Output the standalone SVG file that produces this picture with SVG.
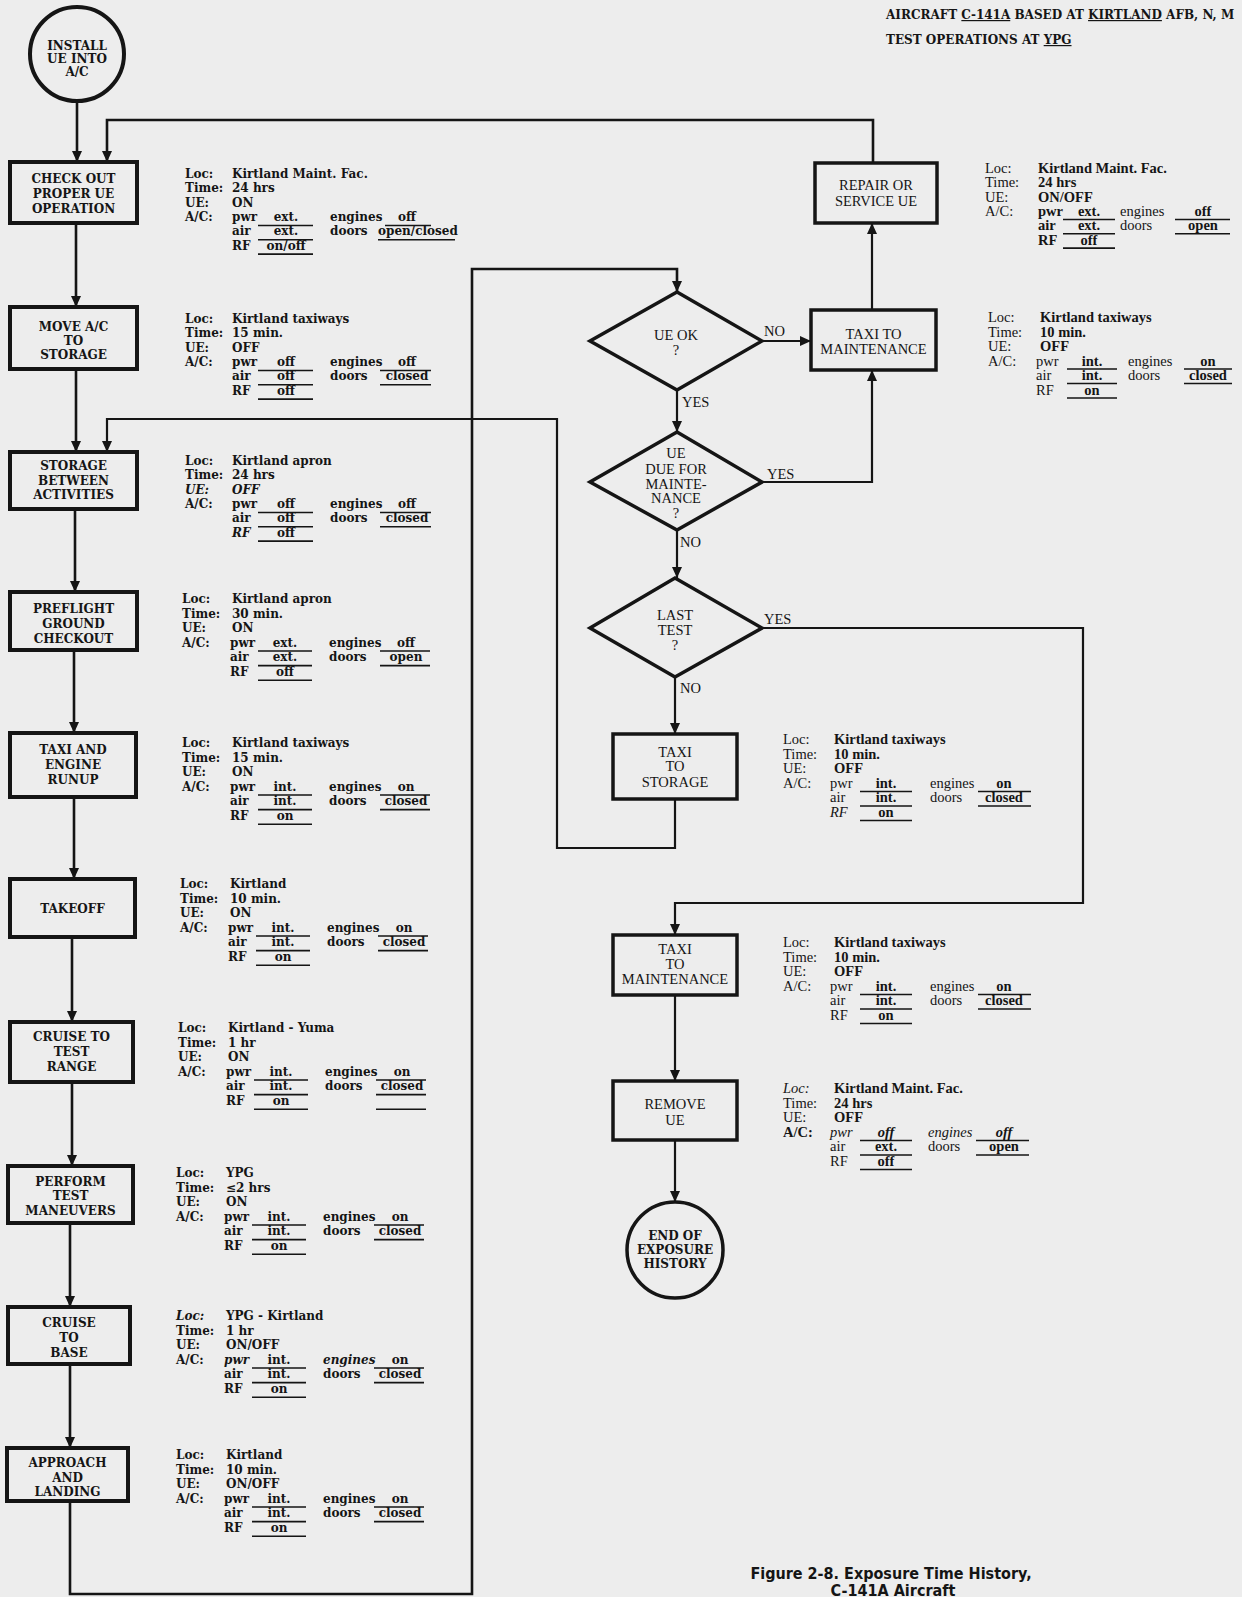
<svg xmlns="http://www.w3.org/2000/svg" width="1242" height="1597" viewBox="0 0 1242 1597">
<defs>
<style>
.bx{fill:none;stroke:#151515;stroke-width:4}
.bx2{fill:none;stroke:#151515;stroke-width:3.5}
.ln{fill:none;stroke:#151515;stroke-width:2.6}
.ln2{fill:none;stroke:#151515;stroke-width:2.2}
.ul{fill:none;stroke:#151515;stroke-width:1.6}
text{fill:#151515}
.tb{font-family:"DejaVu Serif","Liberation Serif",serif;font-weight:bold;font-size:12px;text-anchor:middle}
.tr{font-family:"Liberation Serif","DejaVu Serif",serif;font-size:14.5px;text-anchor:middle}
.il{font-family:"DejaVu Serif","Liberation Serif",serif;font-weight:bold;font-size:12px}
.rl{font-family:"Liberation Serif","DejaVu Serif",serif;font-size:14.5px}
.rv{font-family:"Liberation Serif","DejaVu Serif",serif;font-weight:bold;font-size:14.5px}
.m{text-anchor:middle}
.lab{font-family:"Liberation Serif","DejaVu Serif",serif;font-size:14.5px}
.hd{font-family:"DejaVu Serif","Liberation Serif",serif;font-weight:bold;font-size:12px}
.cap{font-family:"DejaVu Sans Condensed","DejaVu Sans",sans-serif;font-stretch:condensed;font-weight:bold;font-size:16px;text-anchor:middle}
</style>
<marker id="ah" markerUnits="userSpaceOnUse" markerWidth="11" markerHeight="10" refX="11" refY="5" orient="auto">
<path d="M0,0 L11,5 L0,10 z" fill="#151515"/>
</marker>
</defs>
<rect width="1242" height="1597" fill="#ededed"/>

<g id="header">
<text class="hd" x="886" y="19">AIRCRAFT <tspan text-decoration="underline">C-141A</tspan> BASED AT <tspan text-decoration="underline">KIRTLAND</tspan> AFB, N, M</text>
<text class="hd" x="886" y="44">TEST OPERATIONS AT <tspan text-decoration="underline">YPG</tspan></text>
</g>

<g id="connectors">
<path class="ln" d="M77,101 V162" marker-end="url(#ah)"/>
<path class="ln" d="M873,163 V120 H107 V162" marker-end="url(#ah)"/>
<path class="ln" d="M76,223 V307" marker-end="url(#ah)"/>
<path class="ln" d="M76,369 V452" marker-end="url(#ah)"/>
<path class="ln" d="M75,509 V592" marker-end="url(#ah)"/>
<path class="ln" d="M74,650 V733" marker-end="url(#ah)"/>
<path class="ln" d="M74,797 V879" marker-end="url(#ah)"/>
<path class="ln" d="M72,937 V1022" marker-end="url(#ah)"/>
<path class="ln" d="M72,1082 V1166" marker-end="url(#ah)"/>
<path class="ln" d="M70,1223 V1307" marker-end="url(#ah)"/>
<path class="ln" d="M70,1364 V1448" marker-end="url(#ah)"/>
<path class="ln" d="M70,1501 V1594 H472 V269 H677 V292" marker-end="url(#ah)"/>
<path class="ln2" d="M762,341 H811" marker-end="url(#ah)"/>
<path class="ln2" d="M677,390 V432" marker-end="url(#ah)"/>
<path class="ln2" d="M762,482 H872 V370" marker-end="url(#ah)"/>
<path class="ln2" d="M872,310 V223" marker-end="url(#ah)"/>
<path class="ln2" d="M677,530 V578" marker-end="url(#ah)"/>
<path class="ln2" d="M675,677 V734" marker-end="url(#ah)"/>
<path class="ln2" d="M675,799 V848 H557 V419 H107 V452" marker-end="url(#ah)"/>
<path class="ln2" d="M762,628 H1083 V903 H675 V935" marker-end="url(#ah)"/>
<path class="ln2" d="M675,995 V1081" marker-end="url(#ah)"/>
<path class="ln2" d="M675,1140 V1202" marker-end="url(#ah)"/>
<text class="lab" x="764" y="336">NO</text>
<text class="lab" x="682" y="407">YES</text>
<text class="lab" x="767" y="479">YES</text>
<text class="lab" x="680" y="547">NO</text>
<text class="lab" x="764" y="624">YES</text>
<text class="lab" x="680" y="693">NO</text>
</g>

<g id="install">
<circle class="bx" cx="77" cy="54" r="47"/>
<text class="tb" x="77" y="49.5" font-size="12.5">INSTALL</text>
<text class="tb" x="77" y="62.5" font-size="12.5">UE INTO</text>
<text class="tb" x="77" y="75.5" font-size="12.5">A/C</text>
</g>

<g id="checkout">
<rect class="bx" x="10" y="162" width="127" height="61"/>
<text class="tb" x="73.5" y="182.5">CHECK OUT</text>
<text class="tb" x="73.5" y="197.5">PROPER UE</text>
<text class="tb" x="73.5" y="212.5">OPERATION</text>
<g class="il" transform="translate(185,178)">
<text x="0" y="0">Loc:</text><text x="47" y="0">Kirtland Maint. Fac.</text>
<text x="0" y="14.3">Time:</text><text x="47" y="14.3">24 hrs</text>
<text x="0" y="28.6">UE:</text><text x="47" y="28.6">ON</text>
<text x="0" y="42.9">A/C:</text><text x="47" y="42.9">pwr</text><text class="m" x="101" y="42.9">ext.</text><text x="145" y="42.9">engines</text><text class="m" x="222" y="42.9">off</text>
<text x="47" y="57.2">air</text><text class="m" x="101" y="57.2">ext.</text><text x="145" y="57.2">doors</text><text x="193" y="57.2">open/closed</text>
<text x="47" y="71.5">RF</text><text class="m" x="101" y="71.5">on/off</text>
<path class="ul" d="M73,47.5H128M73,61.8H128M73,76.1H128M200,47.5H246M193,61.8H270"/>
</g>
</g>

<g id="move">
<rect class="bx" x="10" y="307" width="127" height="62"/>
<text class="tb" x="73.5" y="330.5">MOVE A/C</text>
<text class="tb" x="73.5" y="344.5">TO</text>
<text class="tb" x="73.5" y="358.5">STORAGE</text>
<g class="il" transform="translate(185,323)">
<text x="0" y="0">Loc:</text><text x="47" y="0">Kirtland taxiways</text>
<text x="0" y="14.3">Time:</text><text x="47" y="14.3">15 min.</text>
<text x="0" y="28.6">UE:</text><text x="47" y="28.6">OFF</text>
<text x="0" y="42.9">A/C:</text><text x="47" y="42.9">pwr</text><text class="m" x="101" y="42.9">off</text><text x="145" y="42.9">engines</text><text class="m" x="222" y="42.9">off</text>
<text x="47" y="57.2">air</text><text class="m" x="101" y="57.2">off</text><text x="145" y="57.2">doors</text><text class="m" x="222" y="57.2">closed</text>
<text x="47" y="71.5">RF</text><text class="m" x="101" y="71.5">off</text>
<path class="ul" d="M73,47.5H128M73,61.8H128M73,76.1H128M195,47.5H246M195,61.8H246"/>
</g>
</g>

<g id="storage">
<rect class="bx" x="10" y="452" width="127" height="57"/>
<text class="tb" x="73.5" y="469.5">STORAGE</text>
<text class="tb" x="73.5" y="484.5">BETWEEN</text>
<text class="tb" x="73.5" y="498.5">ACTIVITIES</text>
<g class="il" transform="translate(185,465)">
<text x="0" y="0">Loc:</text><text x="47" y="0">Kirtland apron</text>
<text x="0" y="14.3">Time:</text><text x="47" y="14.3">24 hrs</text>
<text x="0" y="28.6" font-style="italic">UE:</text><text x="47" y="28.6" font-style="italic">OFF</text>
<text x="0" y="42.9">A/C:</text><text x="47" y="42.9">pwr</text><text class="m" x="101" y="42.9">off</text><text x="145" y="42.9">engines</text><text class="m" x="222" y="42.9">off</text>
<text x="47" y="57.2">air</text><text class="m" x="101" y="57.2">off</text><text x="145" y="57.2">doors</text><text class="m" x="222" y="57.2">closed</text>
<text x="47" y="71.5" font-style="italic">RF</text><text class="m" x="101" y="71.5">off</text>
<path class="ul" d="M73,47.5H128M73,61.8H128M73,76.1H128M195,47.5H246M195,61.8H246"/>
</g>
</g>

<g id="preflight">
<rect class="bx" x="10" y="592" width="127" height="58"/>
<text class="tb" x="73.5" y="612.5">PREFLIGHT</text>
<text class="tb" x="73.5" y="627.5">GROUND</text>
<text class="tb" x="73.5" y="642.5">CHECKOUT</text>
<g class="il" transform="translate(182,603)">
<text x="0" y="0">Loc:</text><text x="50" y="0">Kirtland apron</text>
<text x="0" y="14.6">Time:</text><text x="50" y="14.6">30 min.</text>
<text x="0" y="29.2">UE:</text><text x="50" y="29.2">ON</text>
<text x="0" y="43.8">A/C:</text><text x="48" y="43.8">pwr</text><text class="m" x="103" y="43.8">ext.</text><text x="147" y="43.8">engines</text><text class="m" x="224" y="43.8">off</text>
<text x="48" y="58.4">air</text><text class="m" x="103" y="58.4">ext.</text><text x="147" y="58.4">doors</text><text class="m" x="224" y="58.4">open</text>
<text x="48" y="73">RF</text><text class="m" x="103" y="73">off</text>
<path class="ul" d="M76,48H130M76,62.6H130M76,77.2H130M198,48H248M198,62.6H248"/>
</g>
</g>

<g id="taxiengine">
<rect class="bx" x="10" y="733" width="126" height="64"/>
<text class="tb" x="73" y="753.5">TAXI AND</text>
<text class="tb" x="73" y="768.5">ENGINE</text>
<text class="tb" x="73" y="783.5">RUNUP</text>
<g class="il" transform="translate(182,747)">
<text x="0" y="0">Loc:</text><text x="50" y="0">Kirtland taxiways</text>
<text x="0" y="14.6">Time:</text><text x="50" y="14.6">15 min.</text>
<text x="0" y="29.2">UE:</text><text x="50" y="29.2">ON</text>
<text x="0" y="43.8">A/C:</text><text x="48" y="43.8">pwr</text><text class="m" x="103" y="43.8">int.</text><text x="147" y="43.8">engines</text><text class="m" x="224" y="43.8">on</text>
<text x="48" y="58.4">air</text><text class="m" x="103" y="58.4">int.</text><text x="147" y="58.4">doors</text><text class="m" x="224" y="58.4">closed</text>
<text x="48" y="73">RF</text><text class="m" x="103" y="73">on</text>
<path class="ul" d="M76,48H130M76,62.6H130M76,77.2H130M198,48H248M198,62.6H248"/>
</g>
</g>

<g id="takeoff">
<rect class="bx" x="10" y="879" width="125" height="58"/>
<text class="tb" x="72.5" y="912.5">TAKEOFF</text>
<g class="il" transform="translate(180,888)">
<text x="0" y="0">Loc:</text><text x="50" y="0">Kirtland</text>
<text x="0" y="14.6">Time:</text><text x="50" y="14.6">10 min.</text>
<text x="0" y="29.2">UE:</text><text x="50" y="29.2">ON</text>
<text x="0" y="43.8">A/C:</text><text x="48" y="43.8">pwr</text><text class="m" x="103" y="43.8">int.</text><text x="147" y="43.8">engines</text><text class="m" x="224" y="43.8">on</text>
<text x="48" y="58.4">air</text><text class="m" x="103" y="58.4">int.</text><text x="147" y="58.4">doors</text><text class="m" x="224" y="58.4">closed</text>
<text x="48" y="73">RF</text><text class="m" x="103" y="73">on</text>
<path class="ul" d="M76,48H130M76,62.6H130M76,77.2H130M198,48H248M198,62.6H248"/>
</g>
</g>

<g id="cruisetest">
<rect class="bx" x="10" y="1022" width="123" height="60"/>
<text class="tb" x="71.5" y="1040.5">CRUISE TO</text>
<text class="tb" x="71.5" y="1055.5">TEST</text>
<text class="tb" x="71.5" y="1070.5">RANGE</text>
<g class="il" transform="translate(178,1032)">
<text x="0" y="0">Loc:</text><text x="50" y="0">Kirtland - Yuma</text>
<text x="0" y="14.6">Time:</text><text x="50" y="14.6">1 hr</text>
<text x="0" y="29.2">UE:</text><text x="50" y="29.2">ON</text>
<text x="0" y="43.8">A/C:</text><text x="48" y="43.8">pwr</text><text class="m" x="103" y="43.8">int.</text><text x="147" y="43.8">engines</text><text class="m" x="224" y="43.8">on</text>
<text x="48" y="58.4">air</text><text class="m" x="103" y="58.4">int.</text><text x="147" y="58.4">doors</text><text class="m" x="224" y="58.4">closed</text>
<text x="48" y="73">RF</text><text class="m" x="103" y="73">on</text>
<path class="ul" d="M76,48H130M76,62.6H130M76,77.2H130M198,48H248M198,62.6H248M198,77.2H248"/>
</g>
</g>

<g id="perform">
<rect class="bx" x="8" y="1166" width="125" height="57"/>
<text class="tb" x="70.5" y="1185.5">PERFORM</text>
<text class="tb" x="70.5" y="1200">TEST</text>
<text class="tb" x="70.5" y="1215">MANEUVERS</text>
<g class="il" transform="translate(176,1177)">
<text x="0" y="0">Loc:</text><text x="50" y="0">YPG</text>
<text x="0" y="14.6">Time:</text><text x="50" y="14.6">≤2 hrs</text>
<text x="0" y="29.2">UE:</text><text x="50" y="29.2">ON</text>
<text x="0" y="43.8">A/C:</text><text x="48" y="43.8">pwr</text><text class="m" x="103" y="43.8">int.</text><text x="147" y="43.8">engines</text><text class="m" x="224" y="43.8">on</text>
<text x="48" y="58.4">air</text><text class="m" x="103" y="58.4">int.</text><text x="147" y="58.4">doors</text><text class="m" x="224" y="58.4">closed</text>
<text x="48" y="73">RF</text><text class="m" x="103" y="73">on</text>
<path class="ul" d="M76,48H130M76,62.6H130M76,77.2H130M198,48H248M198,62.6H248"/>
</g>
</g>

<g id="cruisebase">
<rect class="bx" x="8" y="1307" width="122" height="57"/>
<text class="tb" x="69" y="1326.5">CRUISE</text>
<text class="tb" x="69" y="1341.5">TO</text>
<text class="tb" x="69" y="1356.5">BASE</text>
<g class="il" transform="translate(176,1320)">
<text x="0" y="0" font-style="italic">Loc:</text><text x="50" y="0">YPG - Kirtland</text>
<text x="0" y="14.6">Time:</text><text x="50" y="14.6">1 hr</text>
<text x="0" y="29.2">UE:</text><text x="50" y="29.2">ON/OFF</text>
<text x="0" y="43.8">A/C:</text><text x="48" y="43.8" font-style="italic">pwr</text><text class="m" x="103" y="43.8">int.</text><text x="147" y="43.8" font-style="italic">engines</text><text class="m" x="224" y="43.8">on</text>
<text x="48" y="58.4">air</text><text class="m" x="103" y="58.4">int.</text><text x="147" y="58.4">doors</text><text class="m" x="224" y="58.4">closed</text>
<text x="48" y="73">RF</text><text class="m" x="103" y="73">on</text>
<path class="ul" d="M76,48H130M76,62.6H130M76,77.2H130M198,48H248M198,62.6H248"/>
</g>
</g>

<g id="approach">
<rect class="bx" x="7" y="1448" width="121" height="53"/>
<text class="tb" x="67.5" y="1467">APPROACH</text>
<text class="tb" x="67.5" y="1482">AND</text>
<text class="tb" x="67.5" y="1496">LANDING</text>
<g class="il" transform="translate(176,1459)">
<text x="0" y="0">Loc:</text><text x="50" y="0">Kirtland</text>
<text x="0" y="14.6">Time:</text><text x="50" y="14.6">10 min.</text>
<text x="0" y="29.2">UE:</text><text x="50" y="29.2">ON/OFF</text>
<text x="0" y="43.8">A/C:</text><text x="48" y="43.8">pwr</text><text class="m" x="103" y="43.8">int.</text><text x="147" y="43.8">engines</text><text class="m" x="224" y="43.8">on</text>
<text x="48" y="58.4">air</text><text class="m" x="103" y="58.4">int.</text><text x="147" y="58.4">doors</text><text class="m" x="224" y="58.4">closed</text>
<text x="48" y="73">RF</text><text class="m" x="103" y="73">on</text>
<path class="ul" d="M76,48H130M76,62.6H130M76,77.2H130M198,48H248M198,62.6H248"/>
</g>
</g>

<g id="repair">
<rect class="bx2" x="815" y="163" width="122" height="60"/>
<text class="tr" x="876" y="190" font-size="15">REPAIR OR</text>
<text class="tr" x="876" y="206" font-size="15">SERVICE UE</text>
<g transform="translate(985,173)">
<text class="rl" x="0" y="0">Loc:</text><text class="rv" x="53" y="0">Kirtland Maint. Fac.</text>
<text class="rl" x="0" y="14.3">Time:</text><text class="rv" x="53" y="14.3">24 hrs</text>
<text class="rl" x="0" y="28.6">UE:</text><text class="rv" x="53" y="28.6">ON/OFF</text>
<text class="rl" x="0" y="42.9">A/C:</text><text class="rv" x="53" y="42.9">pwr</text><text class="rv m" x="104" y="42.9">ext.</text><text class="rl" x="135" y="42.9">engines</text><text class="rv m" x="218" y="42.9">off</text>
<text class="rv" x="53" y="57.2">air</text><text class="rv m" x="104" y="57.2">ext.</text><text class="rl" x="135" y="57.2">doors</text><text class="rv m" x="218" y="57.2">open</text>
<text class="rv" x="53" y="71.5">RF</text><text class="rv m" x="104" y="71.5">off</text>
<path class="ul" d="M78,46.5H130M78,60.8H130M78,75.1H130M190,46.5H245M190,60.8H245"/>
</g>
</g>

<g id="uok">
<path class="bx2" d="M677,292 L762,341 L677,390 L590,341 Z"/>
<text class="tr" x="676" y="340">UE OK</text>
<text class="tr" x="676" y="355">?</text>
</g>

<g id="taximaint1">
<rect class="bx2" x="811" y="310" width="125" height="60"/>
<text class="tr" x="873.5" y="339">TAXI TO</text>
<text class="tr" x="873.5" y="354">MAINTENANCE</text>
<g transform="translate(988,322)">
<text class="rl" x="0" y="0">Loc:</text><text class="rv" x="52" y="0">Kirtland taxiways</text>
<text class="rl" x="0" y="14.5">Time:</text><text class="rv" x="52" y="14.5">10 min.</text>
<text class="rl" x="0" y="29">UE:</text><text class="rv" x="52" y="29">OFF</text>
<text class="rl" x="0" y="43.5">A/C:</text><text class="rl" x="48" y="43.5">pwr</text><text class="rv m" x="104" y="43.5">int.</text><text class="rl" x="140" y="43.5">engines</text><text class="rv m" x="220" y="43.5">on</text>
<text class="rl" x="48" y="58">air</text><text class="rv m" x="104" y="58">int.</text><text class="rl" x="140" y="58">doors</text><text class="rv m" x="220" y="58">closed</text>
<text class="rl" x="48" y="72.5">RF</text><text class="rv m" x="104" y="72.5">on</text>
<path class="ul" d="M79,47H129M79,61.5H129M79,76H129M196,47H244M196,61.5H244"/>
</g>
</g>

<g id="duemaint">
<path class="bx2" d="M677,432 L762,482 L677,530 L590,482 Z"/>
<text class="tr" x="676" y="458">UE</text>
<text class="tr" x="676" y="473.5">DUE FOR</text>
<text class="tr" x="676" y="488.5">MAINTE-</text>
<text class="tr" x="676" y="503">NANCE</text>
<text class="tr" x="676" y="518">?</text>
</g>

<g id="lasttest">
<path class="bx2" d="M675,578 L762,628 L675,677 L590,628 Z"/>
<text class="tr" x="675" y="620">LAST</text>
<text class="tr" x="675" y="635">TEST</text>
<text class="tr" x="675" y="650">?</text>
</g>

<g id="taxistorage">
<rect class="bx2" x="613" y="734" width="124" height="65"/>
<text class="tr" x="675" y="757">TAXI</text>
<text class="tr" x="675" y="771">TO</text>
<text class="tr" x="675" y="787">STORAGE</text>
<g transform="translate(783,744)">
<text class="rl" x="0" y="0">Loc:</text><text class="rv" x="51" y="0">Kirtland taxiways</text>
<text class="rl" x="0" y="14.6">Time:</text><text class="rv" x="51" y="14.6">10 min.</text>
<text class="rl" x="0" y="29.2">UE:</text><text class="rv" x="51" y="29.2">OFF</text>
<text class="rl" x="0" y="43.8">A/C:</text><text class="rl" x="47" y="43.8">pwr</text><text class="rv m" x="103" y="43.8">int.</text><text class="rl" x="147" y="43.8">engines</text><text class="rv m" x="221" y="43.8">on</text>
<text class="rl" x="47" y="58.4">air</text><text class="rv m" x="103" y="58.4">int.</text><text class="rl" x="147" y="58.4">doors</text><text class="rv m" x="221" y="58.4">closed</text>
<text class="rl" x="47" y="73" font-style="italic">RF</text><text class="rv m" x="103" y="73">on</text>
<path class="ul" d="M77,47.5H129M77,62H129M77,76.5H129M195,47.5H248M195,62H248"/>
</g>
</g>

<g id="taximaint2">
<rect class="bx2" x="613" y="935" width="124" height="60"/>
<text class="tr" x="675" y="954">TAXI</text>
<text class="tr" x="675" y="969">TO</text>
<text class="tr" x="675" y="984">MAINTENANCE</text>
<g transform="translate(783,947)">
<text class="rl" x="0" y="0">Loc:</text><text class="rv" x="51" y="0">Kirtland taxiways</text>
<text class="rl" x="0" y="14.6">Time:</text><text class="rv" x="51" y="14.6">10 min.</text>
<text class="rl" x="0" y="29.2">UE:</text><text class="rv" x="51" y="29.2">OFF</text>
<text class="rl" x="0" y="43.8">A/C:</text><text class="rl" x="47" y="43.8">pwr</text><text class="rv m" x="103" y="43.8">int.</text><text class="rl" x="147" y="43.8">engines</text><text class="rv m" x="221" y="43.8">on</text>
<text class="rl" x="47" y="58.4">air</text><text class="rv m" x="103" y="58.4">int.</text><text class="rl" x="147" y="58.4">doors</text><text class="rv m" x="221" y="58.4">closed</text>
<text class="rl" x="47" y="73">RF</text><text class="rv m" x="103" y="73">on</text>
<path class="ul" d="M77,47.5H129M77,62H129M77,76.5H129M195,47.5H248M195,62H248"/>
</g>
</g>

<g id="removeue">
<rect class="bx2" x="613" y="1081" width="124" height="59"/>
<text class="tr" x="675" y="1109">REMOVE</text>
<text class="tr" x="675" y="1125">UE</text>
<g transform="translate(783,1093)">
<text class="rl" x="0" y="0" font-style="italic">Loc:</text><text class="rv" x="51" y="0">Kirtland Maint. Fac.</text>
<text class="rl" x="0" y="14.6">Time:</text><text class="rv" x="51" y="14.6">24 hrs</text>
<text class="rl" x="0" y="29.2">UE:</text><text class="rv" x="51" y="29.2">OFF</text>
<text class="rv" x="0" y="43.8">A/C:</text><text class="rl" x="47" y="43.8" font-style="italic">pwr</text><text class="rv m" x="103" y="43.8" font-style="italic">off</text><text class="rl" x="145" y="43.8" font-style="italic">engines</text><text class="rv m" x="221" y="43.8" font-style="italic">off</text>
<text class="rl" x="47" y="58.4">air</text><text class="rv m" x="103" y="58.4">ext.</text><text class="rl" x="145" y="58.4">doors</text><text class="rv m" x="221" y="58.4">open</text>
<text class="rl" x="47" y="73">RF</text><text class="rv m" x="103" y="73">off</text>
<path class="ul" d="M77,47.5H129M77,62H129M77,76.5H129M193,47.5H246M193,62H246"/>
</g>
</g>

<g id="endexposure">
<circle class="bx2" cx="675" cy="1250" r="48"/>
<text class="tb" x="675" y="1240" font-size="12.5">END OF</text>
<text class="tb" x="675" y="1254" font-size="12.5">EXPOSURE</text>
<text class="tb" x="675" y="1268" font-size="12.5">HISTORY</text>
</g>

<g id="caption">
<text class="cap" x="891" y="1579">Figure 2-8.  Exposure Time History,</text>
<text class="cap" x="893" y="1596">C-141A Aircraft</text>
</g>
</svg>
